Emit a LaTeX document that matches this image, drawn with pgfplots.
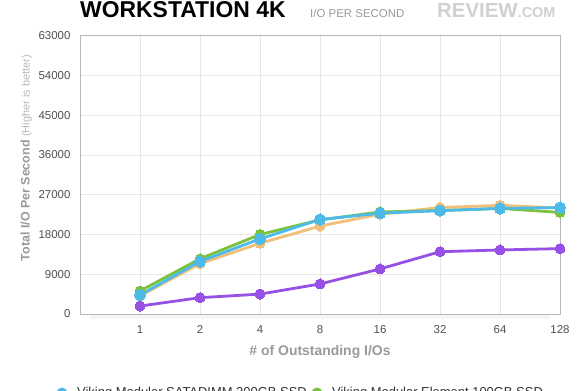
\documentclass[border=0pt]{standalone}
\usepackage{pgfplots}
\pgfplotsset{compat=1.18}
\usepackage{fontspec}
\setmainfont{Liberation Sans}
\definecolor{cblue}{HTML}{4DBAEA}
\definecolor{cgreen}{HTML}{7AC23C}
\definecolor{corange}{HTML}{F0C07A}
\definecolor{cpurple}{HTML}{9650E6}
\definecolor{gridc}{HTML}{E6E6E6}
\definecolor{framec}{HTML}{B8B8B8}
\definecolor{tickc}{HTML}{505050}
\definecolor{labc}{HTML}{9A9A9A}
\begin{document}
\begin{tikzpicture}[x=1bp,y=1bp]
\useasboundingbox (0,0) rectangle (580,390);
\clip (0,0) rectangle (580,390);
\fill[white] (0,0) rectangle (580,390);
% title
\node[anchor=base west,inner sep=0pt,font=\fontsize{23}{26}\selectfont\bfseries] at (80,372.5) {WORKSTATION 4K};
\node[anchor=base west,inner sep=0pt,font=\fontsize{11.5}{13}\selectfont,text=labc] at (310,372.5) {I/O PER SECOND};
\node[anchor=base west,inner sep=0pt,text=black!18] at (437,372.5) {{\fontsize{20.5}{22}\selectfont\bfseries REVIEW}{\fontsize{14.5}{16}\selectfont\bfseries .COM}};
% shadow below axis
\fill[black!4] (90,71) rectangle (550,76);
\begin{axis}[
  at={(80bp,76bp)}, anchor=south west,
  scale only axis, width=480bp, height=278.3bp,
  xmin=0, xmax=8, ymin=0, ymax=63000,
  xtick={1,2,3,4,5,6,7,8},
  xticklabels={1,2,4,8,16,32,64,128},
  ytick={0,9000,18000,27000,36000,45000,54000,63000},
  scaled y ticks=false,
  /pgf/number format/fixed,
  /pgf/number format/1000 sep={},
  /pgf/number format/assume math mode=true,
  tick label style={font=\fontsize{11.5}{13}\selectfont, text=tickc},
  xticklabel style={yshift=-8bp},
  yticklabel style={xshift=-6bp},
  major tick length=0pt,
  grid=major,
  major grid style={gridc, line width=0.8pt},
  axis line style={framec, line width=0.9pt},
  xlabel={\bfseries \# of Outstanding I/Os},
  xlabel style={font=\fontsize{14}{16}\selectfont, text=labc, at={(axis description cs:0.5,-0.135)}, anchor=center},
  ylabel={\bfseries Total I/O Per Second\ {\mdseries\fontsize{11}{13}\selectfont\color{black!28}(Higher is better)}},
  ylabel style={font=\fontsize{12.5}{14}\selectfont, text=labc, at={(axis description cs:-0.112,0.56)}, anchor=center},
  every axis plot/.append style={line width=2.8pt, line join=round, mark=*, mark size=5pt},
]
\addplot[color=cpurple, mark options={fill=cpurple, draw=cpurple, line width=0pt}] coordinates {(1,1800) (2,3700) (3,4500) (4,6800) (5,10200) (6,14100) (7,14500) (8,14800)};
\addplot[color=corange, mark options={fill=corange, draw=corange, line width=0pt}] coordinates {(1,4100) (2,11400) (3,16000) (4,19900) (5,22600) (6,24100) (7,24600) (8,24000)};
\addplot[color=cgreen, mark options={fill=cgreen, draw=cgreen, line width=0pt}] coordinates {(1,5200) (2,12500) (3,18000) (4,21300) (5,23100) (6,23400) (7,23900) (8,23000)};
\addplot[color=cblue, mark options={fill=cblue, draw=cblue, line width=0pt}, mark size=5.6pt] coordinates {(1,4300) (2,11900) (3,17000) (4,21400) (5,22800) (6,23400) (7,23900) (8,24100)};
\end{axis}
% legend (cut by the lower edge, as in the reference)
\fill[cblue] (62,-3) circle (5.5);
\node[anchor=base west,inner sep=0pt,font=\fontsize{13}{15}\selectfont,text=black!80] at (77,-6.5) {Viking Modular SATADIMM 200GB SSD};
\fill[cgreen] (317,-3) circle (5.5);
\node[anchor=base west,inner sep=0pt,font=\fontsize{13}{15}\selectfont,text=black!80] at (332,-6.5) {Viking Modular Element 100GB SSD};
\end{tikzpicture}
\end{document}
